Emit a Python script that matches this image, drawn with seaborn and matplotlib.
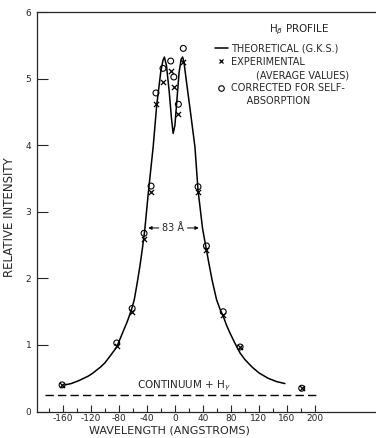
import seaborn as sns
import matplotlib
matplotlib.use("Agg")
import matplotlib.pyplot as plt
import pandas as pd
from matplotlib.lines import Line2D
from matplotlib.ticker import FixedLocator

# theoretical (G.K.S.) profile
theo_wl = [-157, -148, -138, -130, -124, -118, -112, -106, -100, -92, -83, -74, -68, -62, -58,
           -54, -50, -46, -43, -38, -33, -31, -26, -20, -17, -15, -12, -8, -5, -2.5, 0, 3, 6, 9,
           11, 13, 17, 22, 28.6, 33, 39.5, 47.6, 53, 59.5, 64, 69, 74, 78.6, 86, 93, 100, 110,
           120, 133, 145, 157]
theo_int = [0.40, 0.42, 0.46, 0.50, 0.53, 0.57, 0.62, 0.67, 0.73, 0.84, 0.97, 1.20, 1.35, 1.53, 1.68,
            1.92, 2.18, 2.48, 2.73, 3.28, 3.78, 3.98, 4.60, 5.12, 5.28, 5.33, 5.20, 4.80, 4.42, 4.18, 4.30, 4.70, 5.10, 5.30,
            5.33, 5.25, 4.92, 4.52, 3.98, 3.33, 2.75, 2.28, 1.98, 1.68, 1.55, 1.43, 1.29, 1.18, 1.02, 0.88, 0.78, 0.67,
            0.58, 0.50, 0.45, 0.42]

# measured points
pt_wl = [-161, -83, -61, -44, -34, -27, -17, -6, -1.5, 5, 12, 33, 45, 69, 93, 181]
experimental = [0.40, 0.99, 1.50, 2.60, 3.30, 4.62, 4.96, 5.12, 4.88, 4.47, 5.25, 3.30, 2.43, 1.45, 0.97, 0.35]
corrected = [0.40, 1.03, 1.55, 2.68, 3.39, 4.79, 5.16, 5.27, 5.03, 4.62, 5.46, 3.38, 2.49, 1.50, 0.97, 0.35]

# continuum + H gamma level
cont_wl = [-186, 203]
cont_int = [0.25, 0.25]

xticks = [-160, -120, -80, -40, 0, 40, 80, 120, 160, 200]
yticks = [0, 1, 2, 3, 4, 5, 6]

sns.set_style("ticks")
plt.rcParams["font.family"] = ["DejaVu Sans"]
plt.rcParams["axes.unicode_minus"] = False

theo = pd.DataFrame({"wl": theo_wl, "intensity": theo_int})
pts = pd.DataFrame({"wl": pt_wl, "exp": experimental, "corr": corrected})
cont = pd.DataFrame({"wl": cont_wl, "intensity": cont_int})

fig = plt.figure(figsize=(3.76, 4.38), dpi=100)
ax = fig.add_axes([0.098, 0.0605, 0.902, 0.911])

sns.lineplot(data=theo, x="wl", y="intensity", color="black", linewidth=1.1, sort=False, ax=ax)
sns.lineplot(data=cont, x="wl", y="intensity", color="black", linewidth=1.0,
             linestyle=(0, (6, 3)), ax=ax)
sns.scatterplot(data=pts, x="wl", y="exp", marker="x", color="black", s=14, linewidth=0.9, ax=ax)
sns.scatterplot(data=pts, x="wl", y="corr", marker="o", facecolor="none", edgecolor="black",
                s=18, linewidth=0.8, ax=ax)

ax.set_xlim(-197, 287)
ax.set_ylim(0, 6)
ax.set_xticks(xticks)
ax.set_xticklabels([str(t) for t in xticks])
ax.xaxis.set_minor_locator(FixedLocator([-180, -140, -100, -60, -20, 20, 60, 100, 140, 180]))
ax.set_yticks(yticks)
ax.tick_params(axis="x", which="major", direction="in", length=5, width=0.8, pad=2, labelsize=6.5)
ax.tick_params(axis="x", which="minor", direction="in", length=3, width=0.8)
ax.tick_params(axis="y", direction="in", length=8, width=0.8, pad=4, labelsize=6.5)
for s in ["left", "bottom", "top"]:
    ax.spines[s].set_linewidth(0.9)
ax.spines["right"].set_visible(False)

ax.set_xlabel("WAVELENGTH (ANGSTROMS)", fontsize=8)
ax.set_ylabel("RELATIVE INTENSITY", fontsize=8.5)
ax.xaxis.set_label_coords(0.392, -0.034)
ax.yaxis.set_label_coords(-0.062, 0.487)

# half width arrows
ax.text(-3, 2.76, "83 Å", fontsize=7, ha="center", va="center")
ax.annotate("", xy=(-42, 2.76), xytext=(-19, 2.76),
            arrowprops=dict(arrowstyle="-|>", color="black", lw=0.7, mutation_scale=5))
ax.annotate("", xy=(38, 2.76), xytext=(14, 2.76),
            arrowprops=dict(arrowstyle="-|>", color="black", lw=0.7, mutation_scale=5))

ax.text(-54, 0.38, "CONTINUUM + H$_\\gamma$", fontsize=7.5, ha="left", va="center")

# legend
ax.text(0.684, 0.956, "H$_\\beta$ PROFILE", transform=ax.transAxes, fontsize=7.5,
        ha="left", va="center")
blank = Line2D([], [], linestyle="none")
handles = [
    Line2D([], [], color="black", linewidth=1.1),
    Line2D([], [], color="black", marker="x", linestyle="none", markersize=3.5, markeredgewidth=0.9),
    blank,
    Line2D([], [], color="black", marker="o", markerfacecolor="none", linestyle="none",
           markersize=4, markeredgewidth=0.8),
    blank,
]
labels = ["THEORETICAL (G.K.S.)", "EXPERIMENTAL", "        (AVERAGE VALUES)",
          "CORRECTED FOR SELF-", "     ABSORPTION"]
ax.legend(handles, labels, loc="upper left", bbox_to_anchor=(0.525, 0.922), frameon=False,
          fontsize=7, handlelength=1.3, handletextpad=0.35, borderpad=0, borderaxespad=0,
          labelspacing=0.33)

fig.savefig("out.png", dpi=100)
